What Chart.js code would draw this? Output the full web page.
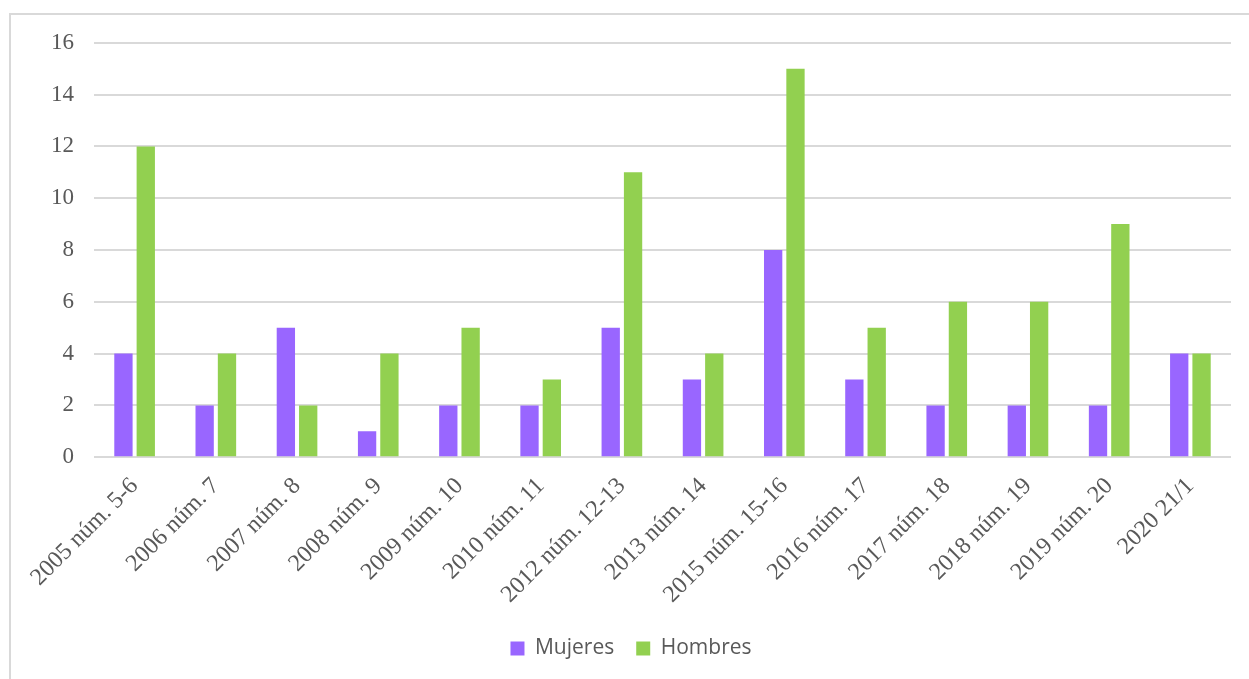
<!DOCTYPE html>
<html>
<head>
<meta charset="utf-8">
<script src="https://cdn.jsdelivr.net/npm/chart.js@4/dist/chart.umd.min.js"></script>
<style>
  html, body { margin: 0; padding: 0; background: #fff; overflow: hidden; }
  #frame {
    position: absolute; left: 9px; top: 13px;
    width: 1238px; height: 666px;
    border-left: 2px solid #d9d9d9; border-top: 2px solid #d9d9d9;
  }
  #box { position: absolute; left: 11px; top: 9px; width: 1238px; height: 672px; }
</style>
</head>
<body>
<div id="frame"></div>
<div id="box"><canvas id="chart"></canvas></div>
<script>
const labels = ['2005 núm. 5-6', '2006 núm. 7', '2007 núm. 8', '2008 núm. 9', '2009 núm. 10',
  '2010 núm. 11', '2012 núm. 12-13', '2013 núm. 14', '2015 núm. 15-16', '2016 núm. 17',
  '2017 núm. 18', '2018 núm. 19', '2019 núm. 20', '2020 21/1'];
const mujeres = [4, 2, 5, 1, 2, 2, 5, 3, 8, 3, 2, 2, 2, 4];
const hombres = [12, 4, 2, 4, 5, 3, 11, 4, 15, 5, 6, 6, 9, 4];

const ctx = document.getElementById('chart').getContext('2d');
const serif = '"Liberation Serif", "Times New Roman", serif';

new Chart(ctx, {
    type: 'bar',
    data: {
        labels: labels,
        datasets: [
            { label: 'Mujeres', data: mujeres, backgroundColor: '#9966FF' },
            { label: 'Hombres', data: hombres, backgroundColor: '#92D050' }
        ]
    },
    options: {
        responsive: true,
        maintainAspectRatio: false,
        animation: false,
        categoryPercentage: 0.55,
        barPercentage: 0.82,
        layout: { padding: { top: 6, right: 18, left: 20, bottom: 12 } },
        plugins: {
            legend: {
                position: 'bottom',
                labels: {
                    boxWidth: 14, boxHeight: 14, padding: 22,
                    color: '#595959',
                    font: { family: '"Open Sans", sans-serif', size: 21 }
                }
            },
            tooltip: { enabled: false }
        },
        scales: {
            x: {
                grid: { display: false },
                border: { display: false },
                ticks: {
                    color: '#595959', maxRotation: 45, minRotation: 45, padding: 7,
                    font: { family: serif, size: 24 }
                }
            },
            y: {
                min: 0, max: 16,
                grid: { color: '#d9d9d9', lineWidth: 2, drawTicks: false },
                border: { display: false },
                ticks: {
                    stepSize: 2, color: '#595959', padding: 20,
                    font: { family: serif, size: 23 }
                }
            }
        }
    }
});
</script>
</body>
</html>
